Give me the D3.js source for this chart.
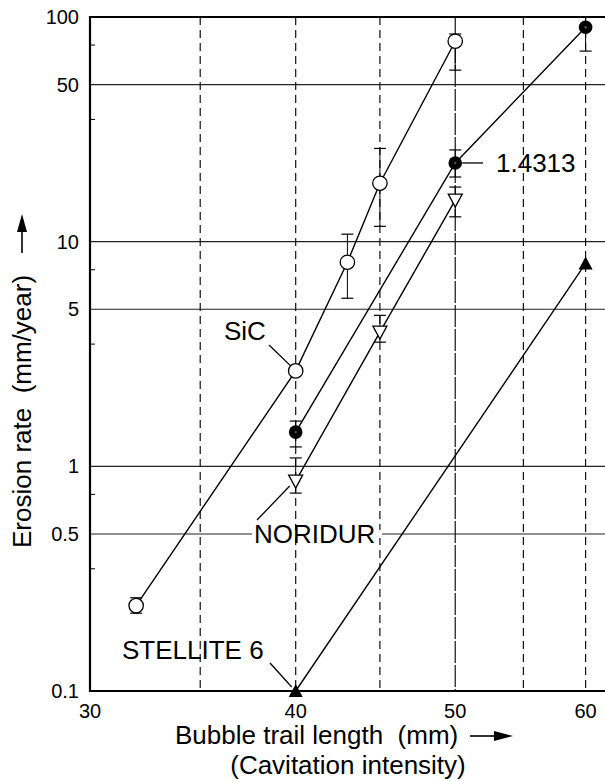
<!DOCTYPE html>
<html>
<head>
<meta charset="utf-8">
<script src="https://cdn.jsdelivr.net/npm/d3@7"></script>
<style>
  body { margin: 0; background: #fff; }
  svg { display: block; font-family: "Liberation Sans", Arial, sans-serif; }
  svg text { white-space: pre; }
</style>
</head>
<body>
<svg id="chart" width="605" height="781"></svg>
<script>
// Axis ticks
const xTicks = [30, 40, 50, 60];
const xGridDashed = [35, 40, 45, 55, 60];
const xGridSolid = [50];
const yTicks = [0.1, 0.5, 1, 5, 10, 50, 100];
const yGrid = [0.5, 1, 5, 10, 50];
const yMinorTicks = [0.35, 0.75, 3.5, 7.5, 35, 75];

// SiC
const sicX = [32, 40, 43, 45, 50];
const sicY = [0.24, 2.66, 8.1, 18.2, 78];
const sicLo = [0.222, null, 5.6, 11.7, 58];
const sicHi = [0.26, null, 10.8, 26, 84];

// 1.4313
const steelX = [40, 50, 60];
const steelY = [1.42, 22.4, 90];
const steelLo = [1.22, 19.4, 70.5];
const steelHi = [1.59, 25.6, 100];

// NORIDUR
const noriX = [40, 45, 50];
const noriY = [0.86, 3.96, 15.3];
const noriLo = [0.76, 3.57, 12.9];
const noriHi = [1.09, 4.7, 17.5];

// STELLITE 6
const stelX = [40, 60];
const stelY = [0.1, 8.0];

const margin = { top: 17, left: 90, bottom: 90 };
const width = 605, height = 781;

const svg = d3.select("#chart");

const x = d3.scaleLog().domain([30, 63]).range([margin.left, margin.left + Math.log(63 / 30) * 715]);
const y = d3.scaleLog().domain([0.1, 100]).range([691, margin.top]);

const zip = (xs, ys, lo, hi) => xs.map((d, i) => ({ x: d, y: ys[i], lo: lo ? lo[i] : null, hi: hi ? hi[i] : null }));

// Grid
const grid = svg.append("g");
grid.selectAll(".hgrid")
  .data(yGrid)
  .join("line")
    .attr("x1", x(30)).attr("x2", width)
    .attr("y1", d => y(d)).attr("y2", d => y(d))
    .attr("stroke", "#222").attr("stroke-width", 1.1);

grid.selectAll(".vdash")
  .data(xGridDashed)
  .join("line")
    .attr("x1", d => x(d)).attr("x2", d => x(d))
    .attr("y1", y(100)).attr("y2", y(0.1))
    .attr("stroke", "#111").attr("stroke-width", 1.2)
    .attr("stroke-dasharray", "8,5");

grid.selectAll(".vsolid")
  .data(xGridSolid)
  .join("line")
    .attr("x1", d => x(d)).attr("x2", d => x(d))
    .attr("y1", y(100)).attr("y2", y(0.1))
    .attr("stroke", "#111").attr("stroke-width", 1.2)
    .attr("stroke-dasharray", "22,2");

// Frame
svg.append("line")
  .attr("x1", x(30)).attr("x2", width).attr("y1", y(100)).attr("y2", y(100))
  .attr("stroke", "#000").attr("stroke-width", 2);
svg.append("line")
  .attr("x1", x(30)).attr("x2", width).attr("y1", y(0.1)).attr("y2", y(0.1))
  .attr("stroke", "#000").attr("stroke-width", 2.2);
svg.append("line")
  .attr("x1", x(30)).attr("x2", x(30)).attr("y1", y(100) - 1).attr("y2", y(0.1) + 1)
  .attr("stroke", "#000").attr("stroke-width", 2.2);

// Minor ticks on y axis
svg.selectAll(".minor")
  .data(yMinorTicks)
  .join("line")
    .attr("x1", x(30)).attr("x2", x(30) + 5)
    .attr("y1", d => y(d)).attr("y2", d => y(d))
    .attr("stroke", "#000").attr("stroke-width", 1);

// Tick labels
const fmt = d => String(d);
svg.selectAll(".ylab")
  .data(yTicks)
  .join("text")
    .attr("x", x(30) - 11)
    .attr("y", d => y(d) + 7)
    .attr("text-anchor", "end")
    .attr("font-size", 20)
    .text(fmt);

svg.selectAll(".xlab")
  .data(xTicks)
  .join("text")
    .attr("x", d => x(d))
    .attr("y", 718)
    .attr("text-anchor", "middle")
    .attr("font-size", 20)
    .text(fmt);

// Axis titles
svg.append("text")
  .attr("transform", "translate(31,548) rotate(-90)")
  .attr("font-size", 26)
  .text("Erosion rate  (mm/year)");
svg.append("line")
  .attr("x1", 22).attr("x2", 22).attr("y1", 253).attr("y2", 228)
  .attr("stroke", "#000").attr("stroke-width", 1.6);
svg.append("path")
  .attr("d", "M22,214 L17,232 L27,232 Z")
  .attr("fill", "#000");

svg.append("text")
  .attr("x", 175).attr("y", 744)
  .attr("font-size", 26)
  .text("Bubble trail length  (mm)");
svg.append("text")
  .attr("x", 348).attr("y", 774)
  .attr("text-anchor", "middle")
  .attr("font-size", 26)
  .text("(Cavitation intensity)");
svg.append("line")
  .attr("x1", 470).attr("x2", 498).attr("y1", 736).attr("y2", 736)
  .attr("stroke", "#000").attr("stroke-width", 1.6);
svg.append("path")
  .attr("d", "M513,736 L494,731 L494,741 Z")
  .attr("fill", "#000");

// Series
const line = d3.line().x(d => x(d.x)).y(d => y(d.y));

function drawSeries(data, marker) {
  const g = svg.append("g");
  g.append("path")
    .datum(data)
    .attr("d", line)
    .attr("fill", "none")
    .attr("stroke", "#000")
    .attr("stroke-width", 1.4);

  const eb = data.filter(d => d.lo != null);
  g.selectAll(".eb")
    .data(eb)
    .join("line")
      .attr("x1", d => x(d.x)).attr("x2", d => x(d.x))
      .attr("y1", d => y(d.lo)).attr("y2", d => y(d.hi))
      .attr("stroke", "#000").attr("stroke-width", 1);
  g.selectAll(".caplo")
    .data(eb)
    .join("line")
      .attr("x1", d => x(d.x) - 6).attr("x2", d => x(d.x) + 6)
      .attr("y1", d => y(d.lo)).attr("y2", d => y(d.lo))
      .attr("stroke", "#000").attr("stroke-width", 1.2);
  g.selectAll(".caphi")
    .data(eb)
    .join("line")
      .attr("x1", d => x(d.x) - 6).attr("x2", d => x(d.x) + 6)
      .attr("y1", d => y(d.hi)).attr("y2", d => y(d.hi))
      .attr("stroke", "#000").attr("stroke-width", 1.2);

  marker(g.selectAll(".pt").data(data).join("g")
    .attr("transform", d => `translate(${x(d.x)},${y(d.y)})`));
}

drawSeries(zip(sicX, sicY, sicLo, sicHi), sel =>
  sel.append("circle").attr("r", 7.2)
    .attr("fill", "#fff").attr("stroke", "#000").attr("stroke-width", 1.3));

drawSeries(zip(steelX, steelY, steelLo, steelHi), sel => {
  sel.append("circle").attr("r", 6.8).attr("fill", "#000");
  sel.append("circle").attr("r", 1.2).attr("fill", "#555");
});

drawSeries(zip(noriX, noriY, noriLo, noriHi), sel =>
  sel.append("path")
    .attr("d", "M-7,-6 L7,-6 L0,7 Z")
    .attr("fill", "#fff").attr("stroke", "#000").attr("stroke-width", 1.3));

drawSeries(zip(stelX, stelY), sel =>
  sel.append("path")
    .attr("d", "M0,-7 L7,6 L-7,6 Z")
    .attr("fill", "#000"));

// Labels with leaders
const labels = svg.append("g").attr("font-size", 26);

// SiC
labels.append("line")
  .attr("x1", 269).attr("y1", 345)
  .attr("x2", x(40) - 5).attr("y2", y(sicY[1]) - 5)
  .attr("stroke", "#000").attr("stroke-width", 1.3);
labels.append("text").attr("x", 224).attr("y", 340).text("SiC");

// 1.4313
labels.append("line")
  .attr("x1", x(50) + 7).attr("y1", y(steelY[1]))
  .attr("x2", 483).attr("y2", y(steelY[1]))
  .attr("stroke", "#000").attr("stroke-width", 1.3);
labels.append("text").attr("x", 496).attr("y", 172).text("1.4313");

// NORIDUR
labels.append("rect")
  .attr("x", 252).attr("y", y(0.5) - 4).attr("width", 130).attr("height", 8)
  .attr("fill", "#fff");
labels.append("line")
  .attr("x1", 257).attr("y1", 520)
  .attr("x2", x(40) - 6).attr("y2", y(noriY[0]) + 5)
  .attr("stroke", "#000").attr("stroke-width", 1.3);
labels.append("text").attr("x", 254).attr("y", 543).text("NORIDUR");

// STELLITE 6
labels.append("line")
  .attr("x1", 270).attr("y1", 663)
  .attr("x2", x(40) - 4).attr("y2", y(0.1) - 4)
  .attr("stroke", "#000").attr("stroke-width", 1.3);
labels.append("text").attr("x", 122).attr("y", 659).text("STELLITE 6");
</script>
</body>
</html>
